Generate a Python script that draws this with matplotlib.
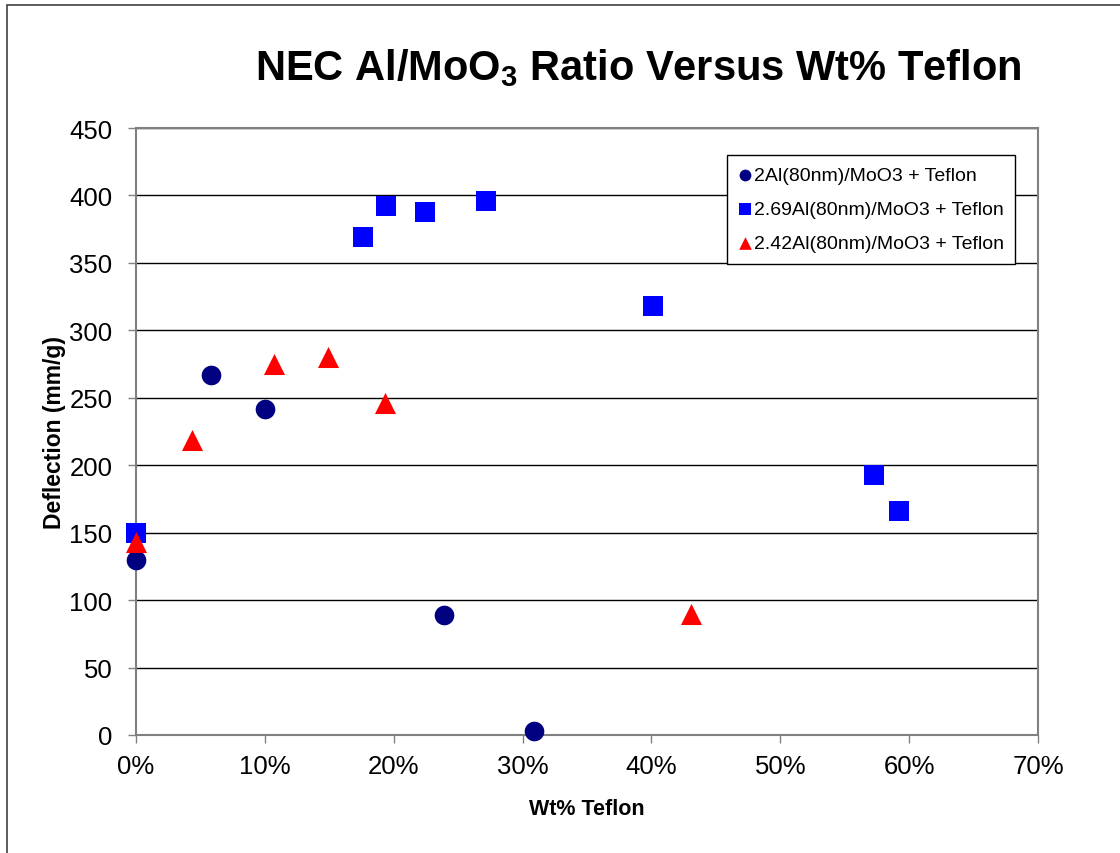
import matplotlib.pyplot as plt
from matplotlib.patches import Rectangle
from matplotlib.ticker import FuncFormatter

plt.rcParams['font.family'] = ['Liberation Sans', 'DejaVu Sans']
plt.rcParams['mathtext.fontset'] = 'custom'
plt.rcParams['mathtext.rm'] = 'Liberation Sans'
plt.rcParams['mathtext.bf'] = 'Liberation Sans:bold'

# wt% teflon (fraction) and deflection (mm/g)
al2_x = [0.0, 0.0583, 0.100, 0.239, 0.309]
al2_y = [130, 267, 242, 89, 3]

al269_x = [0.0, 0.1764, 0.194, 0.2245, 0.272, 0.401, 0.573, 0.592]
al269_y = [150, 369, 392, 388, 396, 318, 193, 166]

al242_x = [0.0, 0.0435, 0.107, 0.149, 0.1935, 0.431]
al242_y = [143, 219, 275, 280, 246, 90]

series = [
    (al2_x, al2_y, "2Al(80nm)/MoO3 + Teflon", "o", "#000080", 200),
    (al269_x, al269_y, "2.69Al(80nm)/MoO3 + Teflon", "s", "#0000FF", 210),
    (al242_x, al242_y, "2.42Al(80nm)/MoO3 + Teflon", "^", "#FF0000", 230),
]


def main() -> None:
    fig = plt.figure(figsize=(11.2, 8.54), dpi=100)
    fig.patches.append(Rectangle((7 / 1120, -0.1), 1.2, 1.1 - 6 / 854, transform=fig.transFigure,
                                 fill=False, edgecolor="#404040", linewidth=1.2))
    ax = fig.add_axes([0.1214, 0.1382, 0.8054, 0.7107])

    for xs, ys, label, marker, color, size in series:
        ax.scatter(xs, ys, marker=marker, color=color, s=size, label=label,
                   linewidths=0, clip_on=False, zorder=3)

    ax.set_xlim(0, 0.7)
    ax.set_ylim(0, 450)
    ax.set_xticks([i / 10 for i in range(8)])
    ax.set_yticks(range(0, 451, 50))
    ax.xaxis.set_major_formatter(FuncFormatter(lambda v, p: f"{v * 100:.0f}%"))
    ax.yaxis.grid(True, color="black", linewidth=1)
    ax.set_axisbelow(True)
    for side in ax.spines.values():
        side.set_color("#808080")
        side.set_linewidth(1.5)
    ax.tick_params(axis="both", direction="out", length=6, width=1, color="#808080",
                   labelsize=18.5)
    ax.tick_params(axis="y", pad=11)
    ax.tick_params(axis="x", pad=8)

    ax.set_xlabel("Wt% Teflon", fontsize=15.5, fontweight="bold", labelpad=14)
    ax.set_ylabel("Deflection (mm/g)", fontsize=16.5, fontweight="bold", labelpad=2)
    fig.text(0.57, 0.92, "NEC Al/MoO$_\\mathbf{3}$ Ratio Versus Wt% Teflon", fontsize=30,
             fontweight="bold", ha="center", va="center")

    leg = ax.legend(loc="upper right", bbox_to_anchor=(0.975, 0.956), fontsize=14,
                    fancybox=False, framealpha=1, edgecolor="black", markerscale=0.6,
                    handlelength=0.7, handletextpad=0.1, borderpad=0.6, labelspacing=0.85,
                    borderaxespad=0)
    leg.get_frame().set_linewidth(1)

    fig.savefig("out.png", dpi=100)


if __name__ == '__main__':
    main()
